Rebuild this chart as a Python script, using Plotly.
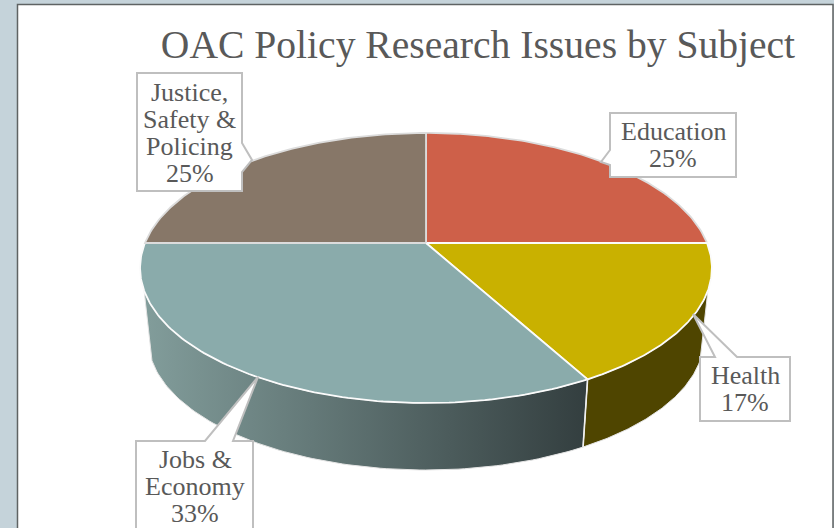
import numpy as np
import plotly.graph_objects as go

# Shares of policy research issues, clockwise from twelve o'clock
subjects = ["Education", "Health", "Jobs &<br>Economy", "Justice,<br>Safety &<br>Policing"]
shares = [25, 17, 33, 25]
top_colors = ["#CE6049", "#C9B100", "#8AABAB", "#877768"]
side_colors = [None, "#4F4500", ["#829D9B", "#333E3F"], None]
rim_colors = ["#DCDCDC", "#FBFBFB", "#FBFBFB", "#DCDCDC"]

WIDTH, HEIGHT = 834, 528
TEXT = "#595959"
SERIF = "Liberation Serif"
LABEL_SIZE = 26
LINE_STEP = 27

# Perspective disc: centre, radii, foreshortening and extrusion
CX, CY = 426, 243
RX, RY, K = 281, 130.4, 0.185
DROP, SHRINK = 71.5, 0.972
SILHOUETTE = (20, 160)  # degrees where the side wall leaves the top face


def rim(deg, depth=0.0):
    """Screen position of the rim at angle deg (0 = right, 90 = front)."""
    a = np.radians(deg)
    w = 1 / (1 - K * np.sin(a))
    f = 1 + (SHRINK - 1) * depth
    return CX + f * RX * np.cos(a) * w, CY + DROP * depth + f * RY * np.sin(a) * w


edges = -90 + 360 * np.cumsum([0] + shares) / sum(shares)
fig = go.Figure()

# Side walls, visible only on the front of the disc
for i, fill in enumerate(side_colors):
    lo = max(edges[i], SILHOUETTE[0])
    hi = min(edges[i + 1], SILHOUETTE[1])
    if fill is None or lo >= hi:
        continue
    arc = np.linspace(lo, hi, 90)
    xt, yt = rim(arc)
    xb, yb = rim(arc[::-1], 1.0)
    style = dict(fillcolor=fill) if isinstance(fill, str) else dict(
        fillgradient=dict(type="horizontal",
                          colorscale=[[0, fill[0]], [1, fill[1]]]))
    fig.add_trace(go.Scatter(x=np.r_[xt, xb, xt[0]], y=np.r_[yt, yb, yt[0]],
                             mode="lines", fill="toself",
                             line=dict(color="#E4E4E4", width=1), **style))

# Top face slices
for i, color in enumerate(top_colors):
    arc = np.linspace(edges[i], edges[i + 1], 120)
    xs, ys = rim(arc)
    fig.add_trace(go.Scatter(x=np.r_[CX, xs, CX], y=np.r_[CY, ys, CY],
                             mode="lines", fill="toself", fillcolor=color,
                             line=dict(color=rim_colors[i], width=1.8)))

# Front corner where the two side walls meet
xj0, yj0 = rim(edges[2])
xj1, yj1 = rim(edges[2], 1.0)
fig.add_trace(go.Scatter(x=[xj0, xj1], y=[yj0, yj1], mode="lines",
                         line=dict(color="#F0F0F0", width=1.6)))

# Callout boxes with their pointers
callouts = [
    ("M610 113H736V177H610V165L601 162L610 150Z", 673, 145, 0),
    ("M700 357H715L693 314L737 357H790V421H700Z", 745, 389, 1),
    ("M136 441H205L258 377L233 441H253V540H136Z", 195, 486.5, 2),
    ("M137 73H242V143L252 160L242 172V191H137Z", 189.5, 132.5, 3),
]
shapes = [dict(type="rect", xref="x", yref="y", x0=17.5, y0=4.5, x1=833, y1=540,
               fillcolor="white", line=dict(color="#5F6363", width=1.5),
               layer="below")]
annotations = []
for path, tx, ty, i in callouts:
    shapes.append(dict(type="path", xref="x", yref="y", path=path,
                       fillcolor="white", line=dict(color="#BFBFBF", width=2)))
    # One annotation per row so the row pitch stays tighter than Plotly's default
    rows = subjects[i].split("<br>") + [f"{shares[i]}%"]
    for r, row in enumerate(rows):
        annotations.append(dict(x=tx, y=ty + (r - (len(rows) - 1) / 2) * LINE_STEP,
                                xref="x", yref="y", showarrow=False, text=row,
                                font=dict(family=SERIF, size=LABEL_SIZE, color=TEXT)))

fig.update_layout(
    width=WIDTH, height=HEIGHT, autosize=False,
    margin=dict(l=0, r=0, t=0, b=0),
    paper_bgcolor="#C5D3DA", plot_bgcolor="rgba(0,0,0,0)",
    showlegend=False, hovermode=False,
    title=dict(text="OAC Policy Research Issues by Subject",
               x=478 / WIDTH, xanchor="center",
               y=1 - 44 / HEIGHT, yanchor="middle",
               font=dict(family=SERIF, size=39.6, color=TEXT)),
    xaxis=dict(range=[0, WIDTH], visible=False, fixedrange=True),
    yaxis=dict(range=[HEIGHT, 0], visible=False, fixedrange=True),
    shapes=shapes, annotations=annotations,
)

fig.write_html("out.html", config=dict(displayModeBar=False))
